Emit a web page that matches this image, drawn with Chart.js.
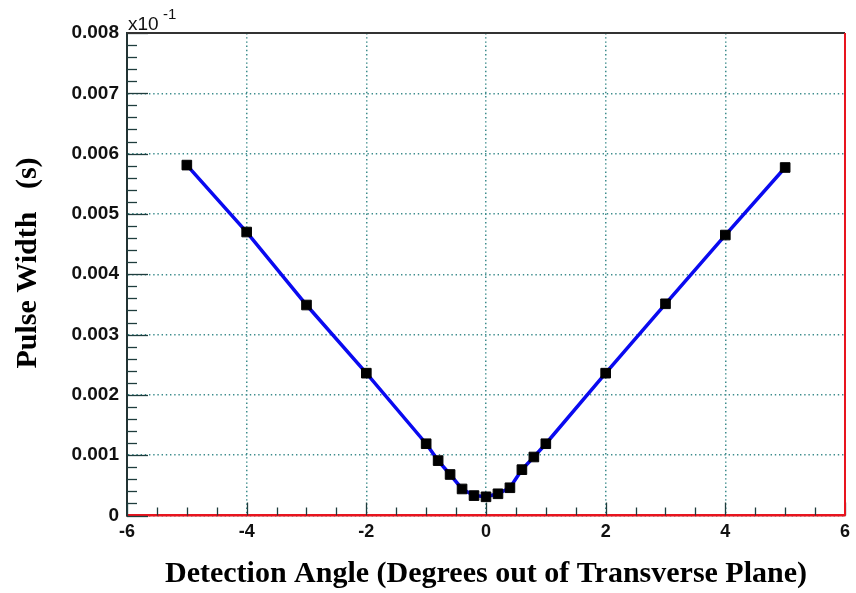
<!DOCTYPE html>
<html>
<head>
<meta charset="utf-8">
<script src="https://cdn.jsdelivr.net/npm/chart.js@4"></script>
<style>
  html, body { margin: 0; padding: 0; background: #fff; }
  #wrap { width: 856px; height: 593px; position: relative; }
</style>
</head>
<body>
<div id="wrap"><canvas id="pulseChart"></canvas></div>
<script>
// detection angle (deg) vs pulse width (s)
const angles = [-5, -4, -3, -2, -1, -0.8, -0.6, -0.4, -0.2, 0, 0.2, 0.4, 0.6, 0.8, 1, 2, 3, 4, 5];
const widths = [0.00581, 0.00470, 0.00349, 0.00236, 0.00119, 0.00091, 0.00068, 0.00044, 0.00033, 0.00031,
                0.00036, 0.00046, 0.00076, 0.00097, 0.00119, 0.00236, 0.00351, 0.00465, 0.00577];
const yTicks = [0, 0.001, 0.002, 0.003, 0.004, 0.005, 0.006, 0.007, 0.008];
const xTicks = [-6, -4, -2, 0, 2, 4, 6];

const tickColor = '#1f3d3d';
const gridColor = '#3d8c8c';

// frame, inner tick marks and the x10^-1 exponent
const framePlugin = {
    id: 'frame',
    afterDatasetsDraw(chart) {
        const { ctx, chartArea: a, scales: { x, y } } = chart;
        ctx.save();
        ctx.strokeStyle = tickColor;
        ctx.lineWidth = 1.3;
        // y ticks: major every 0.001, minor every 0.0002
        for (let i = 0; i <= 40; i++) {
            const py = Math.round(y.getPixelForValue(i * 0.0002)) + 0.5;
            const len = i % 5 === 0 ? 21 : 10;
            ctx.beginPath();
            ctx.moveTo(a.left, py);
            ctx.lineTo(a.left + len, py);
            ctx.stroke();
        }
        // x ticks: major every 2, minor every 0.5
        for (let i = 0; i <= 24; i++) {
            const px = Math.round(x.getPixelForValue(-6 + i * 0.5)) + 0.5;
            const len = i % 4 === 0 ? 13 : 8;
            ctx.beginPath();
            ctx.moveTo(px, a.bottom);
            ctx.lineTo(px, a.bottom - len);
            ctx.stroke();
        }
        // top and right border
        ctx.lineWidth = 2;
        ctx.strokeStyle = '#333';
        ctx.beginPath();
        ctx.moveTo(a.left, a.top);
        ctx.lineTo(a.right, a.top);
        ctx.stroke();
        ctx.strokeStyle = '#e8141e';
        ctx.beginPath();
        ctx.moveTo(a.right, a.top);
        ctx.lineTo(a.right, a.bottom);
        ctx.stroke();
        // exponent label
        ctx.fillStyle = '#111';
        ctx.textBaseline = 'alphabetic';
        ctx.font = '19px "Liberation Sans", Arial, sans-serif';
        ctx.fillText('x10', a.left + 1, 30);
        ctx.font = '15px "Liberation Sans", Arial, sans-serif';
        ctx.fillText('-1', a.left + 36, 19);
        ctx.restore();
    }
};

new Chart(document.getElementById('pulseChart'), {
    type: 'scatter',
    data: {
        datasets: [{
            data: angles.map((a, i) => ({ x: a, y: widths[i] })),
            showLine: true,
            borderColor: '#0a0af0',
            borderWidth: 3.5,
            pointStyle: 'rect',
            pointRadius: 6.8,
            pointHoverRadius: 6.8,
            pointBackgroundColor: '#000',
            pointBorderColor: '#000',
            pointBorderWidth: 1
        }]
    },
    plugins: [framePlugin],
    options: {
        responsive: true,
        maintainAspectRatio: false,
        animation: false,
        events: [],
        layout: { padding: { left: 0, right: 9, top: 33, bottom: 0 } },
        plugins: { legend: { display: false }, tooltip: { enabled: false } },
        scales: {
            x: {
                type: 'linear',
                min: -6,
                max: 6,
                afterBuildTicks: s => { s.ticks = xTicks.map(v => ({ value: v })); },
                afterFit: s => { s.height = 593 - 515.5; },
                ticks: {
                    color: '#111',
                    padding: 6,
                    maxRotation: 0,
                    font: { family: '"Liberation Sans", Arial, sans-serif', size: 18, weight: 'bold' }
                },
                grid: { drawTicks: false, color: gridColor, lineWidth: 1.5 },
                // border.dash dots the grid lines
                border: { color: '#e8141e', width: 2.5, dash: [1.4, 2.8] },
                title: {
                    display: true,
                    text: 'Detection Angle (Degrees out of Transverse Plane)',
                    color: '#000',
                    padding: { top: 0, bottom: 1 },
                    font: { family: '"Liberation Serif", "Times New Roman", serif', size: 30, weight: 'bold' }
                }
            },
            y: {
                min: 0,
                max: 0.008,
                afterBuildTicks: s => { s.ticks = yTicks.map(v => ({ value: v })); },
                afterFit: s => { s.width = 127; },
                ticks: {
                    color: '#111',
                    padding: 8,
                    callback: v => v === 0 ? '0' : v.toFixed(3),
                    font: { family: '"Liberation Sans", Arial, sans-serif', size: 19, weight: 'bold' }
                },
                grid: { drawTicks: false, color: gridColor, lineWidth: 1.5 },
                border: { color: '#233', width: 2, dash: [1.4, 2.8] },
                title: {
                    display: true,
                    text: '   Pulse Width   (s)',
                    color: '#000',
                    padding: { top: 10, bottom: 0 },
                    font: { family: '"Liberation Serif", "Times New Roman", serif', size: 30, weight: 'bold' }
                }
            }
        }
    }
});
</script>
</body>
</html>
